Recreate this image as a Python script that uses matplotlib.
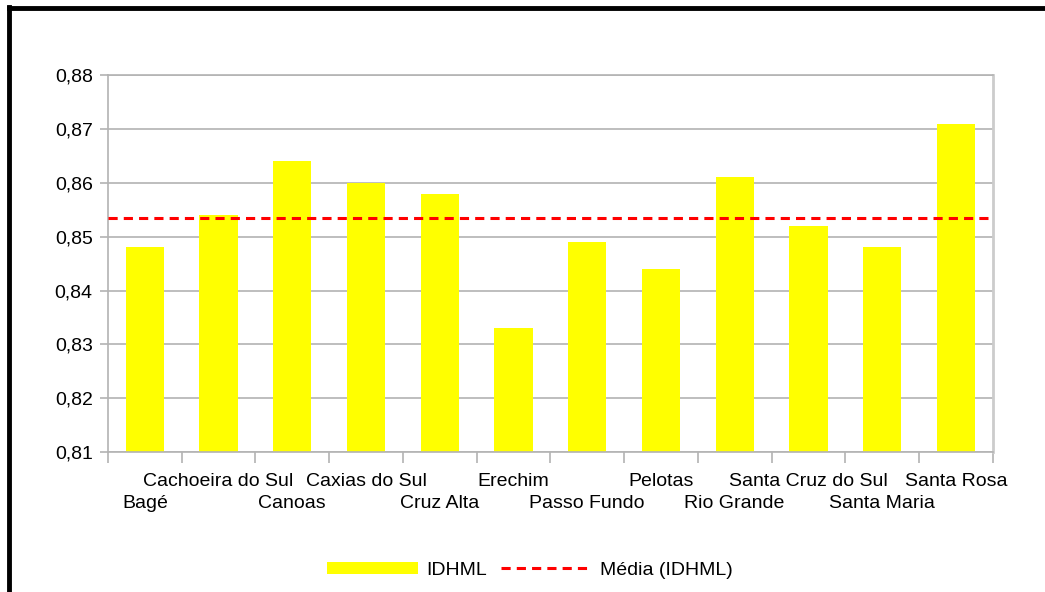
import numpy as np
import matplotlib.pyplot as plt
from matplotlib.lines import Line2D

plt.rcParams['font.family'] = ['Liberation Sans', 'DejaVu Sans']

# IDHML by municipality
cities = ["Bagé", "Cachoeira do Sul", "Canoas", "Caxias do Sul", "Cruz Alta",
          "Erechim", "Passo Fundo", "Pelotas", "Rio Grande",
          "Santa Cruz do Sul", "Santa Maria", "Santa Rosa"]
idhml = [0.848, 0.854, 0.864, 0.860, 0.858, 0.833, 0.849, 0.844, 0.861,
         0.852, 0.848, 0.871]
media = np.mean(idhml)

fig = plt.figure(figsize=(10.45, 5.92), dpi=100)
ax = fig.add_axes([0.1033, 0.2365, 0.8467, 0.6365])

x = np.arange(len(cities))
bars = ax.bar(x, idhml, width=0.52, color="#ffff00", label="IDHML", zorder=2)
line = ax.axhline(media, color="#ff0000", linestyle=(0, (3, 2)), linewidth=2.2,
                  label="Média (IDHML)", zorder=3)

ax.set_xlim(-0.5, len(cities) - 0.5)
ax.set_ylim(0.81, 0.88)
yt = np.arange(0.81, 0.8801, 0.01)
ax.set_yticks(yt)
ax.set_yticklabels([("%.2f" % v).replace(".", ",") for v in yt])
ax.yaxis.grid(True, color="#b3b3b3", linewidth=1.2, zorder=0)
ax.set_axisbelow(True)

# category labels alternate between two rows: odd ones on top row
ax.set_xticks(x[1::2])
ax.set_xticklabels(cities[1::2])
ax.tick_params(axis="x", length=0, pad=15, labelsize=14)
ax.set_xticks(np.arange(-0.5, len(cities), 1.0), minor=True)
ax.tick_params(axis="x", which="minor", length=8, color="#b3b3b3", width=1.2)
ax.tick_params(axis="y", length=6, color="#b3b3b3", width=1.2, labelsize=14, pad=5)

# even ones on the lower row
sec = ax.secondary_xaxis("bottom")
sec.set_xticks(x[0::2])
sec.set_xticklabels(cities[0::2])
sec.tick_params(axis="x", length=0, pad=31, labelsize=14)
sec.spines["bottom"].set_visible(False)

for s in ax.spines.values():
    s.set_color("#b3b3b3")
    s.set_linewidth(1.2)
ax.spines["right"].set_color("#cccccc")
ax.spines["right"].set_linewidth(2)

fig.legend([bars, line], ["IDHML", "Média (IDHML)"], loc="center",
           bbox_to_anchor=(0.507, 0.037), ncol=2, frameon=False,
           fontsize=14, handlelength=4.7, handleheight=0.6, columnspacing=0.7,
           handletextpad=0.4)

# frame lines at left and top
fig.add_artist(Line2D([0.0086, 0.0086], [0.0, 0.9885], color="black", linewidth=3.5,
                      transform=fig.transFigure))
fig.add_artist(Line2D([0.0086, 1.0], [0.9865, 0.9865], color="black", linewidth=3.5,
                      transform=fig.transFigure))

fig.savefig("out.png", dpi=100)
